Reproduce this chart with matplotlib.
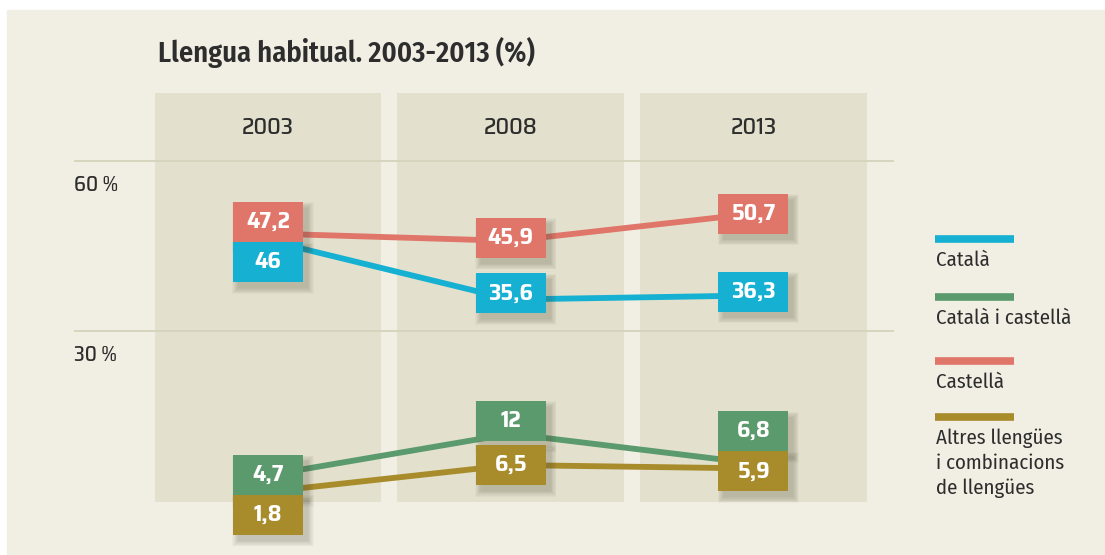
import matplotlib
matplotlib.use("Agg")
import matplotlib.pyplot as plt
from matplotlib.patches import Rectangle
from matplotlib.lines import Line2D
from matplotlib.transforms import ScaledTranslation

# Data
years = ["2003", "2008", "2013"]
series_names = ["Català", "Català i castellà", "Castellà",
                "Altres llengües\ni combinacions\nde llengües"]
catala = [46, 35.6, 36.3]
catala_castella = [4.7, 12, 6.8]
castella = [47.2, 45.9, 50.7]
altres = [1.8, 6.5, 5.9]
y_ticks = [30, 60]

# Style
colors = ["#15b0d2", "#5b9a6c", "#e0766a", "#a88b2b"]
bg = "#f1efe4"
panel = "#e3e1cd"
grid = "#d6d3bc"
text_dark = "#2d2d2d"
# vertical nudges of the value boxes (pixels, + = down) so stacked boxes don't overlap
nudges = [[22, -6, -4], [0, -13, -32], [-12, -3, 0], [23, 0, 3]]

plt.rcParams['font.family'] = ['Fira Sans Condensed', 'DejaVu Sans']
num_font = ['Saira SemiCondensed', 'Fira Sans Condensed', 'DejaVu Sans']

fig = plt.figure(figsize=(11.05, 5.55), dpi=100, facecolor="white")
fig.patches.append(Rectangle((7 / 1105, 1 / 555), 1, (554 - 10) / 555,
                             transform=fig.transFigure, color=bg, zorder=-10))

ax = fig.add_axes([74 / 1105, 53 / 555, 820 / 1105, 409 / 555])
ax.set_facecolor("none")
ax.set_xlim(-0.799, 2.579)
ax.set_ylim(0, 71.9)
ax.axis("off")

x = list(range(len(years)))
for i, yr in enumerate(years):
    ax.axvspan(i - 0.467, i + 0.467, color=panel, lw=0, zorder=0)
    ax.text(i, 65.7, yr, ha="center", va="center", fontsize=17,
            fontweight="medium", family=num_font, color=text_dark)

for t in y_ticks:
    ax.annotate(f"{t} %", xy=(0, t), xycoords=("axes fraction", "data"),
                xytext=(0, -10), textcoords="offset points", va="top",
                fontsize=15, fontweight="medium", family=num_font,
                color=text_dark)
    ax.axhline(t, color=grid, lw=1.3, zorder=1)

all_series = [catala, catala_castella, castella, altres]
for vals, c in zip(all_series, colors):
    ax.plot(x, vals, color=c, lw=4.2, zorder=3, solid_capstyle="butt")

bw, bh = 0.70, 0.40
for vals, c, nd in zip(all_series, colors, nudges):
    for xi, v, d in zip(x, vals, nd):
        tr = fig.dpi_scale_trans + ScaledTranslation(xi, v, ax.transData)
        dy = -d / 100
        # soft drop shadow
        for k in range(8):
            g = 0.008 * k
            ax.add_patch(Rectangle((-bw / 2 + 0.05 - g, dy - bh / 2 - 0.06 - g),
                                   bw + 2 * g, bh + 2 * g, transform=tr,
                                   color="#4e4a35", alpha=0.035, lw=0,
                                   zorder=4, clip_on=False))
        ax.add_patch(Rectangle((-bw / 2, dy - bh / 2), bw, bh, transform=tr,
                               color=c, lw=0, zorder=5, clip_on=False))
        ax.text(0, dy, f"{v:g}".replace(".", ","), transform=tr, ha="center",
                va="center", fontsize=17, fontweight="bold", family=num_font,
                color="white", zorder=6, clip_on=False)

fig.text(158 / 1105, 1 - 52 / 555, "Llengua habitual. 2003-2013 (%)",
         fontsize=20.5, fontweight="semibold", color=text_dark, va="center")

# Legend
leg_y = [239, 297, 361, 417]
for name, c, yy in zip(series_names, colors, leg_y):
    fig.add_artist(Line2D([935 / 1105, 1014 / 1105], [1 - yy / 555] * 2,
                          color=c, lw=5.5, solid_capstyle="butt",
                          transform=fig.transFigure))
    fig.text(936 / 1105, 1 - (yy + 12) / 555, name, fontsize=15,
             color=text_dark, va="top", linespacing=1.32)

fig.savefig("out.png", dpi=100, facecolor=fig.get_facecolor())
